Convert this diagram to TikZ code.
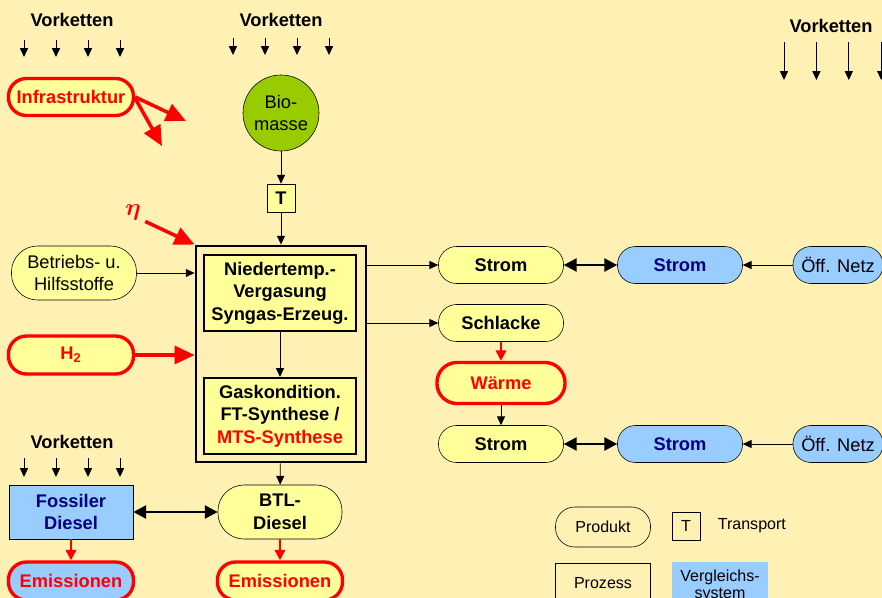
\documentclass[tikz,border=0pt]{standalone}
\usepackage{amsmath}
\usepackage{fontspec}
\setmainfont{Liberation Sans}
\usetikzlibrary{arrows.meta,positioning}

\definecolor{hgrund}{RGB}{255,240,180}
\definecolor{hgelb}{RGB}{255,255,153}
\definecolor{hblau}{RGB}{153,204,255}
\definecolor{hgruen}{RGB}{153,204,0}
\definecolor{dblau}{RGB}{0,0,128}
\definecolor{hrot}{RGB}{255,0,0}

\newcommand\legfont{\fontsize{11.4}{12.2}\selectfont}

\tikzset{
  produkt/.style={draw=black,rounded corners=0.45cm,fill=hgelb,minimum width=3.125cm,minimum height=0.925cm,align=center,inner sep=2pt},
  produktrot/.style={produkt,draw=hrot,line width=2.4pt,text=hrot,font=\bfseries},
  vergleich/.style={produkt,fill=hblau},
  prozess/.style={draw=black,line width=1.5pt,fill=hgelb,minimum width=3.8cm,minimum height=1.9cm,align=center,inner sep=2pt,font=\bfseries},
  pfeil/.style={-{Triangle[length=2.2mm,width=2mm]},line width=0.6pt},
  rotpfeil/.style={-{Triangle[length=5mm,width=4.5mm]},line width=2.5pt,hrot},
  rotpfeilklein/.style={-{Triangle[length=2.6mm,width=2.6mm]},line width=1.6pt,hrot},
  doppelpfeil/.style={{Triangle[length=3.2mm,width=3.2mm]}-{Triangle[length=3.2mm,width=3.2mm]},line width=2pt},
  vk/.style={font=\bfseries}
}

\begin{document}
\fontsize{13}{16}\selectfont
\begin{tikzpicture}[x=0.025cm,y=-0.025cm]
\useasboundingbox (0,0) rectangle (882,598);
\clip (0,0) rectangle (882,598);
\fill[hgrund] (0,0) rectangle (882,598);

% Vorketten
\node[vk] (vk1) at (72,20) {Vorketten};
\node[vk] (vk2) at (281,20) {Vorketten};
\node[vk] (vk3) at (831,26) {Vorketten};
\node[vk] (vk4) at (72,442) {Vorketten};
\foreach \i in {-1.5,-0.5,0.5,1.5}{
  \draw[pfeil] ([xshift=\i*0.8cm,yshift=-0.5cm]vk1.center) -- ++(0,-0.425cm);
  \draw[pfeil] ([xshift=\i*0.8cm,yshift=-0.45cm]vk2.center) -- ++(0,-0.425cm);
  \draw[pfeil] ([xshift=\i*0.81cm+0.04cm,yshift=-0.4cm]vk3.center) -- ++(0,-0.95cm);
  \draw[pfeil] ([xshift=\i*0.8cm,yshift=-0.4cm]vk4.center) -- ++(0,-0.475cm);
}

% Eingaenge
\node[produktrot] (inf) at (71,97) {Infrastruktur};
\coordinate (inf1) at (186,121);
\coordinate (inf2) at (162,146);
\draw[rotpfeil] (inf.east) -- (inf1);
\draw[rotpfeil] ([yshift=-1pt]inf.east) -- (inf2);

\node[circle,draw,fill=hgruen,minimum size=1.9cm,align=center,inner sep=0pt] (bio) at (281,113) {Bio-\\masse};
\node[draw,fill=hgelb,minimum size=0.7cm,inner sep=0pt,font=\bfseries] (t) at (281,198) {T};
\draw[pfeil] (bio) -- (t);

% Anlage
\node[draw,line width=2pt,minimum width=4.25cm,minimum height=5.4cm] (anlage) at (281,354) {};
\node[prozess] (verg) at (280,293) {Niedertemp.-\\Vergasung\\Syngas-Erzeug.};
\node[prozess] (synth) at (280,416) {Gaskondition.\\FT-Synthese /\\\textcolor{hrot}{MTS-Synthese}};
\draw[pfeil] (t) -- (anlage);
\draw[pfeil] (verg) -- (synth);

\node[text=hrot,font=\fontsize{17}{17}\selectfont,inner sep=1pt] (eta) at (133,212) {$\boldsymbol{\eta}$};
\draw[rotpfeil] ([xshift=2pt]eta.south east) -- (anlage.north west);

\node[produkt,minimum height=1.35cm,rounded corners=0.65cm] (hilf) at (74,273) {Betriebs- u.\\Hilfsstoffe};
\draw[pfeil] (hilf) -- (hilf -| anlage.west);
\node[produktrot,minimum height=0.95cm] (h2) at (71,355) {H\textsubscript{2}};
\draw[rotpfeil] (h2) -- (h2 -| anlage.west);

% Ausgaenge
\node[produkt,font=\bfseries] (strom1) at (501,265) {Strom};
\node[vergleich,font=\bfseries,text=dblau] (vstrom1) at (680,265) {Strom};
\node[vergleich,minimum width=2.25cm] (netz1) at (838,265) {Öff. Netz};
\node[produkt,font=\bfseries] (schl) at (501,323) {Schlacke};
\node[produktrot,minimum width=3.2cm,minimum height=1.025cm,rounded corners=0.5cm] (waerme) at (501,383) {Wärme};
\node[produkt,font=\bfseries] (strom2) at (501,444) {Strom};
\node[vergleich,font=\bfseries,text=dblau] (vstrom2) at (680,444) {Strom};
\node[vergleich,minimum width=2.25cm] (netz2) at (838,444) {Öff. Netz};

\draw[pfeil] (anlage.east |- strom1) -- (strom1);
\draw[pfeil] (anlage.east |- schl) -- (schl);
\draw[doppelpfeil] (strom1) -- (vstrom1);
\draw[pfeil] (netz1) -- (vstrom1);
\draw[rotpfeilklein] (schl) -- (waerme);
\draw[pfeil] (waerme) -- (strom2);
\draw[doppelpfeil] (strom2) -- (vstrom2);
\draw[pfeil] (netz2) -- (vstrom2);

% Diesel
\node[draw,fill=hblau,minimum width=3.1cm,minimum height=1.35cm,align=center,font=\bfseries,text=dblau] (fossil) at (71,512) {Fossiler\\Diesel};
\node[produkt,minimum width=3.1cm,minimum height=1.35cm,rounded corners=0.65cm,font=\bfseries] (btl) at (280,512) {BTL-\\Diesel};
\draw[pfeil] (anlage) -- (btl);
\draw[doppelpfeil] (fossil) -- (btl);
\node[produktrot,fill=hblau,minimum height=0.95cm] (emi1) at (71,581) {Emissionen};
\node[produktrot,minimum height=0.95cm] (emi2) at (280,581) {Emissionen};
\draw[rotpfeilklein] (fossil) -- (emi1);
\draw[rotpfeilklein] (btl) -- (emi2);

% Legende
\node[draw,rounded corners=0.48cm,minimum width=2.375cm,minimum height=1cm,font=\legfont] (lprod) at (603,527) {Produkt};
\node[draw,minimum size=0.7cm,inner sep=0pt,font=\legfont] (lt) at (686,526) {T};
\node[font=\legfont,right=0.28cm of lt] (ltrans) {Transport};
\node[draw,minimum width=2.375cm,minimum height=1cm,font=\legfont] (lproz) at (603,583) {Prozess};
\node[fill=hblau,minimum width=2.375cm,minimum height=1.2cm,align=center,font=\legfont] (lvgl) at (720,586) {Vergleichs-\\system};
\end{tikzpicture}
\end{document}
